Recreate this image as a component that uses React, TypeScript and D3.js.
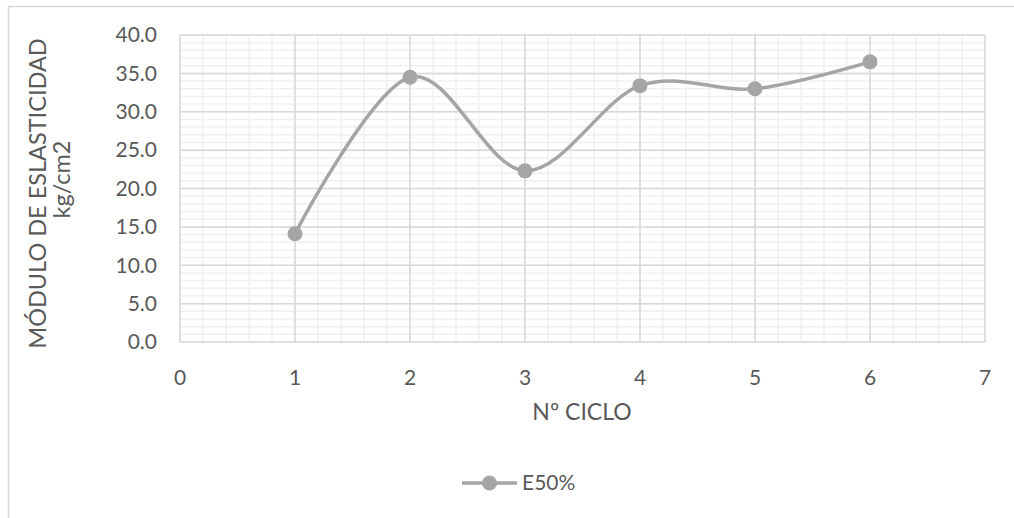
import React from "react";
import * as d3 from "d3";

const cycles = [1, 2, 3, 4, 5, 6];
const e50 = [14.1, 34.5, 22.3, 33.4, 33.0, 36.5];
const xTicks = [0, 1, 2, 3, 4, 5, 6, 7];
const yTicks = [0, 5, 10, 15, 20, 25, 30, 35, 40];
const seriesName = "E50%";
const xTitle = "Nº CICLO";
const yTitle1 = "MÓDULO DE ESLASTICIDAD";
const yTitle2 = "kg/cm2";

const W = 1014, H = 518;
const plot = { left: 180, right: 985, top: 35, bottom: 342 };
const font = "Lato, 'Open Sans', sans-serif";
const textColor = "#595959";
const lineColor = "#A5A5A5";

export default function App() {
  const x = d3.scaleLinear().domain([0, 7]).range([plot.left, plot.right]);
  const y = d3.scaleLinear().domain([0, 40]).range([plot.bottom, plot.top]);
  const xMinor = d3.range(0, 7.0001, 0.2);
  const yMinor = d3.range(0, 40.0001, 1);
  const line = d3
    .line<number>()
    .x((_, i) => x(cycles[i]))
    .y((d) => y(d))
    .curve(d3.curveCardinal.tension(0));
  const path = line(e50) || "";
  const yMid = (plot.top + plot.bottom) / 2 + 5;
  return (
    <svg
      width={W}
      height={H}
      style={{ position: "absolute", left: 0, top: 0, background: "#fff" }}
      fontFamily={font}
    >
      <rect x={0} y={0} width={W} height={H} fill="#fff" />
      <rect x={8.5} y={6.5} width={1200} height={700} fill="none" stroke="#d9d9d9" strokeWidth={1.5} />
      {/* minor grid */}
      {xMinor.map((v, i) => (
        <line key={"xm" + i} x1={x(v)} x2={x(v)} y1={plot.top} y2={plot.bottom} stroke="#f0f0f0" strokeWidth={1.5} />
      ))}
      {yMinor.map((v, i) => (
        <line key={"ym" + i} x1={plot.left} x2={plot.right} y1={y(v)} y2={y(v)} stroke="#f0f0f0" strokeWidth={1.5} />
      ))}
      {/* major grid */}
      {xTicks.map((v) => (
        <line key={"xg" + v} x1={x(v)} x2={x(v)} y1={plot.top} y2={plot.bottom} stroke="#d9d9d9" strokeWidth={1.5} />
      ))}
      {yTicks.map((v) => (
        <line key={"yg" + v} x1={plot.left} x2={plot.right} y1={y(v)} y2={y(v)} stroke="#d9d9d9" strokeWidth={1.5} />
      ))}
      {/* tick labels */}
      {yTicks.map((v) => (
        <text key={"yl" + v} x={157} y={y(v)} dy="0.35em" textAnchor="end" fontSize={21} fill={textColor}>
          {v.toFixed(1)}
        </text>
      ))}
      {xTicks.map((v) => (
        <text key={"xl" + v} x={x(v)} y={385} textAnchor="middle" fontSize={21} fill={textColor}>
          {v}
        </text>
      ))}
      {/* axis titles */}
      <text x={582} y={420} textAnchor="middle" fontSize={23} fill={textColor}>
        {xTitle}
      </text>
      <text transform={`translate(46,${yMid}) rotate(-90)`} textAnchor="middle" fontSize={23.5} fill={textColor}>
        {yTitle1}
      </text>
      <text transform={`translate(70,${yMid - 14}) rotate(-90)`} textAnchor="middle" fontSize={23.5} fill={textColor}>
        {yTitle2}
      </text>
      {/* series */}
      <path d={path} fill="none" stroke={lineColor} strokeWidth={3.5} strokeLinecap="round" />
      {e50.map((v, i) => (
        <circle key={"p" + i} cx={x(cycles[i])} cy={y(v)} r={7.5} fill={lineColor} />
      ))}
      {/* legend */}
      <line x1={462} x2={517} y1={483} y2={483} stroke={lineColor} strokeWidth={3.5} />
      <circle cx={489.5} cy={483} r={7.5} fill={lineColor} />
      <text x={522} y={483} dy="0.35em" fontSize={21} fill={textColor}>
        {seriesName}
      </text>
    </svg>
  );
}
